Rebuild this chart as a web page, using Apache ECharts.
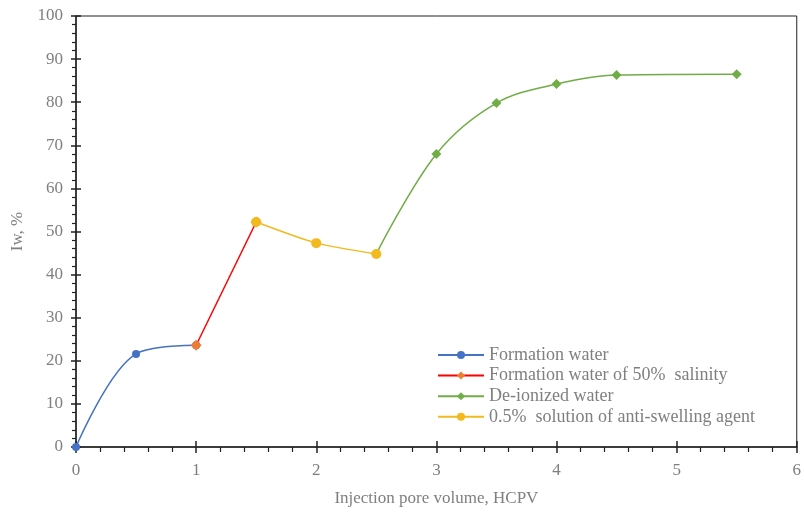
<!DOCTYPE html>
<html><head><meta charset="utf-8">
<script src="https://cdn.jsdelivr.net/npm/echarts@6/dist/echarts.min.js"></script>
<style>html,body{margin:0;padding:0;background:#fff}#c{width:804px;height:513px}</style>
</head><body><div id="c"></div>
<script>
const formationWater = [[0, 0], [0.5, 21.6], [1, 23.6]];
const formationWater50 = [[1, 23.6], [1.5, 52.2]];
const deionizedWater = [[2.5, 44.8], [3, 68.0], [3.5, 79.8], [4, 84.2], [4.5, 86.3], [5.5, 86.5]];
const antiSwelling = [[1.5, 52.2], [2, 47.3], [2.5, 44.8]];
const seriesNames = ['Formation water', 'Formation water of 50% salinity', 'De-ionized water', '0.5% solution of anti-swelling agent'];
const legendLabels = ['Formation water', 'Formation water of 50%  salinity', 'De-ionized water', '0.5%  solution of anti-swelling agent'];

const font = 'Liberation Serif';
const grey = '#7f7f7f';
const chart = echarts.init(document.getElementById('c'));
const grid = {left: 76, right: 2, top: 16, bottom: 66, show: true, borderColor: '#222', borderWidth: 1};
chart.setOption({
  animation: false,
  grid: grid,
  legend: {
    orient: 'vertical', left: 437, top: 346, padding: 0, itemGap: 2.6, itemWidth: 46, itemHeight: 10,
    textStyle: {fontFamily: font, fontSize: 18, color: grey},
    formatter: function (n) { return legendLabels[seriesNames.indexOf(n)]; },
    data: seriesNames
  },
  xAxis: [{
    type: 'value', min: 0, max: 6, interval: 1,
    name: 'Injection pore volume, HCPV', nameLocation: 'middle', nameGap: 43,
    nameTextStyle: {fontFamily: font, fontSize: 17, color: grey},
    axisLine: {lineStyle: {color: '#222', width: 1.5}},
    axisTick: {show: true, length: 6, lineStyle: {color: '#222', width: 1.5}},
    minorTick: {show: true, splitNumber: 5, length: 5, lineStyle: {color: '#222', width: 1.2}},
    axisLabel: {fontFamily: font, fontSize: 17, color: grey, margin: 15},
    splitLine: {show: false}
  }, {
    type: 'value', min: 0, max: 6, interval: 1, position: 'bottom',
    axisLine: {show: false}, axisLabel: {show: false}, splitLine: {show: false},
    axisTick: {show: true, inside: true, length: 6, lineStyle: {color: '#222', width: 1.5}}
  }],
  yAxis: [{
    type: 'value', min: 0, max: 100, interval: 10,
    name: 'Iw, %', nameLocation: 'middle', nameGap: 50,
    nameTextStyle: {fontFamily: font, fontSize: 17, color: grey},
    axisLine: {show: true, lineStyle: {color: '#222', width: 1.5}},
    axisTick: {show: true, length: 5, lineStyle: {color: '#222', width: 1.5}},
    minorTick: {show: true, splitNumber: 5, length: 4, lineStyle: {color: '#222', width: 1.2}},
    axisLabel: {fontFamily: font, fontSize: 17, color: grey, margin: 13},
    splitLine: {show: false}
  }, {
    type: 'value', min: 0, max: 100, interval: 10, position: 'left',
    axisLine: {show: false}, axisLabel: {show: false}, splitLine: {show: false},
    axisTick: {show: true, inside: true, length: 5, lineStyle: {color: '#222', width: 1.5}}
  }],
  series: [
    {name: seriesNames[0], type: 'line', data: formationWater, smooth: 0.35,
     symbol: 'circle', symbolSize: 8, itemStyle: {color: '#4472C4'}, lineStyle: {color: '#4472C4', width: 1.5}},
    {name: seriesNames[1], type: 'line', data: formationWater50,
     symbol: 'diamond', symbolSize: 11, itemStyle: {color: '#ED7D31'}, lineStyle: {color: '#FF0000', width: 1.5}},
    {name: seriesNames[2], type: 'line', data: deionizedWater, smooth: 0.35,
     symbol: 'diamond', symbolSize: 10, itemStyle: {color: '#70AD47'}, lineStyle: {color: '#70AD47', width: 1.5}},
    {name: seriesNames[3], type: 'line', data: antiSwelling, smooth: 0.2,
     symbol: 'circle', symbolSize: 10, itemStyle: {color: '#F2BA1E'}, lineStyle: {color: '#F2BA1E', width: 1.5}}
  ]
});
</script></body></html>
